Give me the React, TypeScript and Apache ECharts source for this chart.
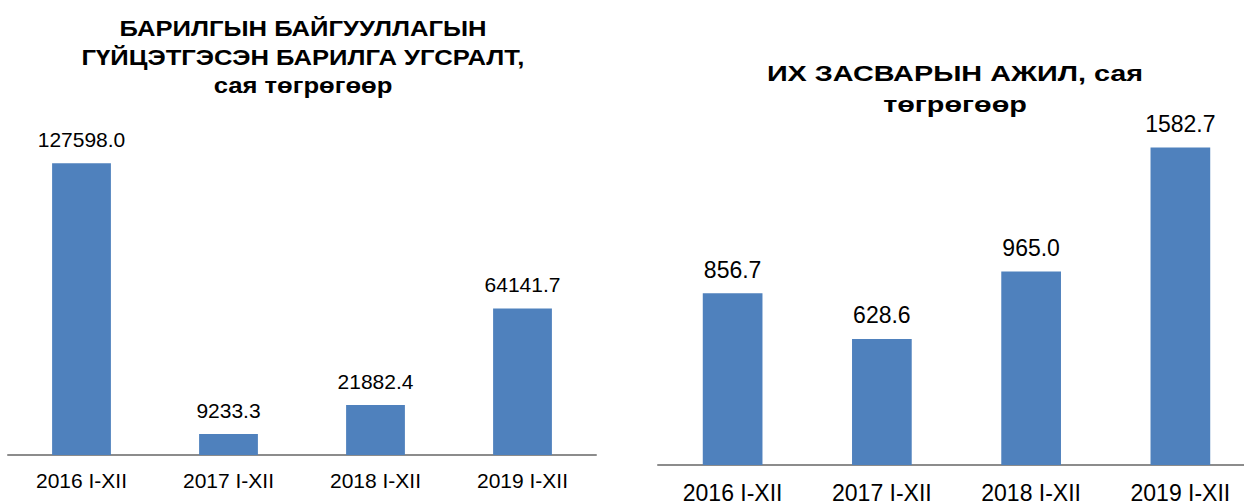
import React, { useEffect, useRef } from "react";
import * as echarts from "echarts";

const categories = ["2016 I-XII", "2017 I-XII", "2018 I-XII", "2019 I-XII"];
const constructionValues = [127598.0, 9233.3, 21882.4, 64141.7];
const repairValues = [856.7, 628.6, 965.0, 1582.7];
const leftTitle = "БАРИЛГЫН БАЙГУУЛЛАГЫН\nГҮЙЦЭТГЭСЭН БАРИЛГА УГСРАЛТ,\nсая төгрөгөөр";
const rightTitle = "ИХ ЗАСВАРЫН АЖИЛ, сая\nтөгрөгөөр";

const FONT = 'Arial, "Liberation Sans", sans-serif';
const BAR = "#4F81BD";

export default function App() {
  const ref = useRef<HTMLDivElement>(null);
  useEffect(() => {
    if (!ref.current) return;
    const chart = echarts.init(ref.current, undefined, { renderer: "svg" });
    const catAxis = (margin: number, fontSize: number, gridIndex: number) => ({
      type: "category" as const,
      gridIndex,
      data: categories,
      axisLine: { show: true, lineStyle: { color: "#8c8c8c", width: 2 } },
      axisTick: { show: false },
      axisLabel: { color: "#000", fontSize, fontFamily: FONT, margin },
    });
    const valAxis = (max: number, gridIndex: number) => ({
      type: "value" as const,
      gridIndex,
      min: 0,
      max,
      show: false,
      splitLine: { show: false },
    });
    const labelCfg = (fontSize: number, distance: number) => ({
      show: true,
      position: "top" as const,
      distance,
      color: "#000",
      fontSize,
      fontFamily: FONT,
      formatter: (p: any) => Number(p.value).toFixed(1),
    });
    chart.setOption({
      animation: false,
      backgroundColor: "#fff",
      grid: [
        { left: 8, top: 135, width: 588, height: 320 },
        { left: 658, top: 104, width: 597, height: 363 },
      ],
      xAxis: [catAxis(15, 21, 0), catAxis(16, 23, 1)],
      yAxis: [valAxis(140000, 0), valAxis(1800, 1)],
      series: [
        {
          type: "bar",
          xAxisIndex: 0,
          yAxisIndex: 0,
          data: constructionValues,
          barWidth: "40%",
          itemStyle: { color: BAR },
          label: labelCfg(21, 13),
        },
        {
          type: "bar",
          xAxisIndex: 1,
          yAxisIndex: 1,
          data: repairValues,
          barWidth: "40%",
          itemStyle: { color: BAR },
          label: labelCfg(23, 12),
        },
      ],
      graphic: [
        {
          type: "text",
          x: 303,
          y: 14,
          scaleX: 1.165,
          style: {
            text: leftTitle,
            align: "center",
            verticalAlign: "top",
            fontSize: 22,
            fontWeight: "bold",
            fontFamily: FONT,
            lineHeight: 28.5,
            fill: "#000",
          },
        },
        {
          type: "text",
          x: 955,
          y: 57.5,
          scaleX: 1.31,
          style: {
            text: rightTitle,
            align: "center",
            verticalAlign: "top",
            fontSize: 22,
            fontWeight: "bold",
            fontFamily: FONT,
            lineHeight: 31,
            fill: "#000",
          },
        },
      ],
    });
    return () => chart.dispose();
  }, []);
  return (
    <div
      style={{
        position: "fixed",
        left: 0,
        top: 0,
        width: 1244,
        height: 504,
        overflow: "hidden",
        background: "#fff",
      }}
    >
      <div ref={ref} style={{ width: 1270, height: 504 }} />
    </div>
  );
}
